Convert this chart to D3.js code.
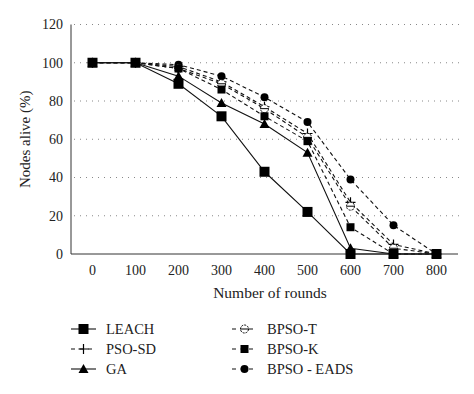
<!DOCTYPE html>
<html>
<head>
<meta charset="utf-8">
<script src="https://cdn.jsdelivr.net/npm/d3@7"></script>
<style>
  body { margin: 0; background: #fff; }
  text { font-family: "Liberation Serif", "DejaVu Serif", serif; fill: #222; }
</style>
</head>
<body>
<div id="chart"></div>
<script>
var rounds = ["0", "100", "200", "300", "400", "500", "600", "700", "800"];
var yTicks = [0, 20, 40, 60, 80, 100, 120];

var leach = [100, 100, 89, 72, 43, 22, 0, 0, 0];
var psoSd = [100, 100, 98, 90, 77, 63, 27, 5, 0];
var ga = [100, 100, 93, 79, 68, 53, 3, 0, 0];
var bpsoT = [100, 100, 97, 89, 76, 61, 25, 3, 0];
var bpsoK = [100, 100, 97, 86, 72, 59, 14, 0, 0];
var bpsoEads = [100, 100, 99, 93, 82, 69, 39, 15, 0];

var series = [
  { name: "LEACH", values: leach, dash: null, marker: "bigsquare" },
  { name: "PSO-SD", values: psoSd, dash: "4,3", marker: "plus" },
  { name: "GA", values: ga, dash: null, marker: "triangle" },
  { name: "BPSO-T", values: bpsoT, dash: "4,3", marker: "opencircle" },
  { name: "BPSO-K", values: bpsoK, dash: "4,3", marker: "square" },
  { name: "BPSO - EADS", values: bpsoEads, dash: "4,3", marker: "circle" }
];

var width = 474, height = 394;
var plotLeft = 71, plotRight = 458, plotTop = 24.5, plotBottom = 254;

var svg = d3.select("#chart").append("svg")
  .attr("width", width)
  .attr("height", height);

var x = d3.scaleBand().domain(rounds).range([plotLeft, plotRight]).padding(0);
var y = d3.scaleLinear().domain([0, 120]).range([plotBottom, plotTop]);

// dotted grid
svg.append("g")
  .selectAll("line")
  .data(yTicks.filter(d => d > 0))
  .enter()
  .append("line")
  .attr("x1", plotLeft + 3)
  .attr("x2", plotRight + 4)
  .attr("y1", d => y(d))
  .attr("y2", d => y(d))
  .attr("stroke", "#888")
  .attr("stroke-width", 1)
  .attr("stroke-dasharray", "1,5");

// axes
svg.append("line")
  .attr("x1", plotLeft).attr("x2", plotLeft)
  .attr("y1", plotTop).attr("y2", plotBottom)
  .attr("stroke", "#333").attr("stroke-width", 1);
svg.append("line")
  .attr("x1", plotLeft).attr("x2", plotRight)
  .attr("y1", plotBottom).attr("y2", plotBottom)
  .attr("stroke", "#333").attr("stroke-width", 1);

svg.append("g")
  .selectAll("text")
  .data(yTicks)
  .enter()
  .append("text")
  .attr("x", 63)
  .attr("y", d => y(d))
  .attr("dy", "0.35em")
  .attr("text-anchor", "end")
  .attr("font-size", 14)
  .text(d => d);

svg.append("g")
  .selectAll("text")
  .data(rounds)
  .enter()
  .append("text")
  .attr("x", d => x(d) + x.bandwidth() / 2)
  .attr("y", 270)
  .attr("dy", "0.35em")
  .attr("text-anchor", "middle")
  .attr("font-size", 14)
  .text(d => d);

svg.append("text")
  .attr("x", 270)
  .attr("y", 293)
  .attr("dy", "0.35em")
  .attr("text-anchor", "middle")
  .attr("font-size", 15.5)
  .text("Number of rounds");

svg.append("text")
  .attr("transform", "translate(25," + (plotTop + plotBottom) / 2 + ") rotate(-90)")
  .attr("dy", "0.35em")
  .attr("text-anchor", "middle")
  .attr("font-size", 15)
  .text("Nodes alive (%)");

function drawMarker(g, type, cx, cy) {
  if (type === "bigsquare") {
    g.append("rect").attr("x", cx - 5).attr("y", cy - 5).attr("width", 10).attr("height", 10).attr("fill", "#000");
  } else if (type === "square") {
    g.append("rect").attr("x", cx - 4).attr("y", cy - 4).attr("width", 8).attr("height", 8).attr("fill", "#000");
  } else if (type === "circle") {
    g.append("circle").attr("cx", cx).attr("cy", cy).attr("r", 4).attr("fill", "#000");
  } else if (type === "opencircle") {
    g.append("circle").attr("cx", cx).attr("cy", cy).attr("r", 4).attr("fill", "#fff")
      .attr("stroke", "#000").attr("stroke-width", 1).attr("stroke-dasharray", "2,1");
    g.append("line").attr("x1", cx - 4).attr("x2", cx + 4).attr("y1", cy).attr("y2", cy)
      .attr("stroke", "#000").attr("stroke-width", 1);
  } else if (type === "triangle") {
    g.append("path")
      .attr("d", "M" + cx + "," + (cy - 5) + "L" + (cx + 5) + "," + (cy + 4) + "L" + (cx - 5) + "," + (cy + 4) + "Z")
      .attr("fill", "#000");
  } else if (type === "plus") {
    g.append("path")
      .attr("d", "M" + (cx - 5) + "," + cy + "H" + (cx + 5) + "M" + cx + "," + (cy - 5) + "V" + (cy + 5))
      .attr("stroke", "#000").attr("stroke-width", 1.2).attr("fill", "none");
  }
}

var line = d3.line()
  .x((d, i) => x(rounds[i]) + x.bandwidth() / 2)
  .y(d => y(d));

// draw dashed first, solid on top
var order = [5, 1, 3, 4, 2, 0];
order.forEach(function(k) {
  var s = series[k];
  var g = svg.append("g");
  g.append("path")
    .attr("d", line(s.values))
    .attr("fill", "none")
    .attr("stroke", "#111")
    .attr("stroke-width", 1.1)
    .attr("stroke-dasharray", s.dash);
  s.values.forEach(function(v, i) {
    drawMarker(g, s.marker, x(rounds[i]) + x.bandwidth() / 2, y(v));
  });
});

// legend
var legend = svg.append("g");
series.forEach(function(s, i) {
  var col = i < 3 ? 0 : 1;
  var row = i % 3;
  var lx = col === 0 ? 71 : 232;
  var ly = 329 + row * 20;
  var g = legend.append("g");
  g.append("line")
    .attr("x1", lx).attr("x2", lx + 25)
    .attr("y1", ly).attr("y2", ly)
    .attr("stroke", "#111").attr("stroke-width", 1.1)
    .attr("stroke-dasharray", s.dash ? "4,4.5" : null);
  drawMarker(g, s.marker, lx + 12.5, ly);
  g.append("text")
    .attr("x", lx + 35)
    .attr("y", ly)
    .attr("dy", "0.35em")
    .attr("font-size", 14.5)
    .text(s.name);
});
</script>
</body>
</html>
